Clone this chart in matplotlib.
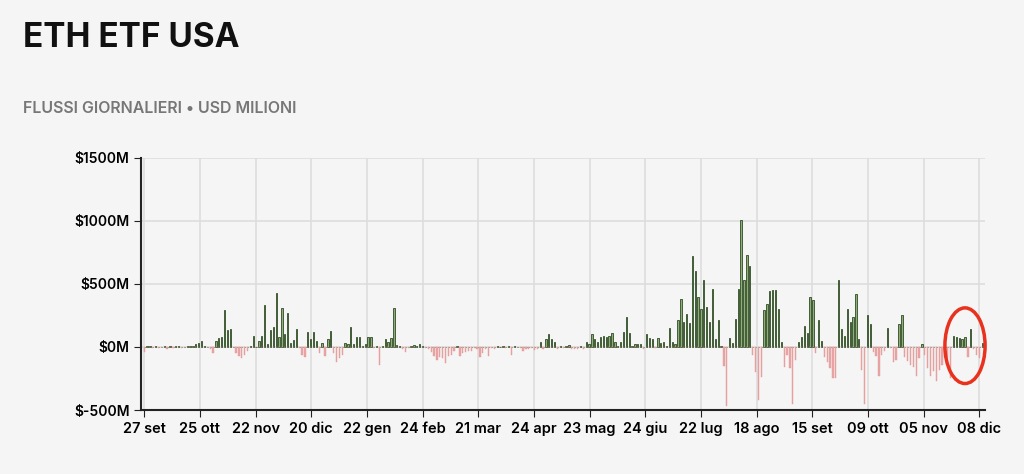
import matplotlib
matplotlib.use('Agg')
import matplotlib.pyplot as plt
from matplotlib.patches import Ellipse

plt.rcParams['font.family'] = ['Inter', 'DejaVu Sans']

# flussi giornalieri ETH ETF USA (milioni USD), letti a occhio dal grafico
seg_a = [-40, 5, 10, -5, 5, -10, 0, 5, -15, 10, -5, 5, 10, -5, 0, 5, 10, 5, 20, 30,
         50, 5, 0, -20, -50]
seg_b = [48, 75, 80, 290, 135, 140, 0, -50, -70, -90, -60, -30, 10, 90, 0, 50, 90, 330,
         25, 135, 160, 430, 80, 310, 105, 270, 30, 55, 145, -5, -60, -80, 120, 60, 115,
         50, -50, 30, -70, 60, 130, -50, -120, -90, -60, 30, 25, 160, 20, 80, 80, 5]
seg_c = [20, 80, 80, -10, 10, -140, 5, 60, 40, 70, 310, 15, 10, -20, -40, -10, 10, 15,
         10, 25, 5, -10, -20, -40, -70, -100, -80, -90, -130, -70, -60, -30, 5, -70, -50,
         -40, -30, -35, -10, -20, -80, -50, -20, -70, -10, -15, 5, 0, 5, -10, 5, -60, 5,
         0, -10, -30, -20, -20, -10, -25, -20, 40, -20, 60, 100, 60, 40, -15, 10, -10, 5,
         15, -20, -20, -20, 10]
seg_d = [-20, 40, 20, 100, 60, 40, 80, 90, 80, 85, 110, 40, 5, 40, 120, 240, 110, 5, 20,
         20, 20, -20, 100, 70, 60, -10, 70, 35, 40, 5, 150, 40, 25, 210, 380, 200, 260,
         190, 720, 600, 400, 300, 530, 320, 200, 460, 60, 210, 10, -150, -465, 70, 30,
         220, 460, 1010, 530, 730, 640, -60, -200, -420, -240, 290, 340, 440, 450]
seg_e = [450, 300, 40, -160, -60, -170, -450, -100, 40, 80, 170, 110, 400, 370, -50, 210,
         50, -80, -120, -170, -250, -250, 530, 140, 90, 300, 200, 240, 420, 60, -180,
         -450, 250, 180, -40, -70, -230, -60, -30, 150, -10, -120, -100, 180, 250, -80,
         -110, -140, -160, -230, -90, 20, -60, -170, -230, -190, -270, -180, -140, -80,
         -90, -250, 90, 80, 70, 60, 80, -80, 140, -20, -60, -90, 30]
flows = seg_a + seg_b + seg_c + seg_d + seg_e

tick_labels = ['27 set', '25 ott', '22 nov', '20 dic', '22 gen', '24 feb', '21 mar',
               '24 apr', '23 mag', '24 giu', '22 lug', '18 ago', '15 set', '09 ott',
               '05 nov', '08 dic']
y_ticks = [-500, 0, 500, 1000, 1500]

n = len(flows)
xs = list(range(n))
bg = '#f5f5f5'

fig = plt.figure(figsize=(10.24, 4.74), dpi=100, facecolor=bg)
ax = fig.add_axes([0.138, 0.135, 0.824, 0.532], facecolor=bg)

pos = [v if v > 0 else 0 for v in flows]
neg = [v if v < 0 else 0 for v in flows]
ax.bar(xs, pos, width=0.45, color='#8fae7a', edgecolor='#2f4a25', linewidth=0.6, zorder=3)
ax.bar(xs, neg, width=0.45, color='#eba5a5', edgecolor='#e29a9a', linewidth=0.3, zorder=3)

ax.set_ylim(-500, 1500)
ax.set_xlim(-1, n)
ax.set_yticks(y_ticks)
ax.set_yticklabels(['$%dM' % v for v in y_ticks], fontsize=10, fontweight='semibold')
tpos = [i * (n - 2) / (len(tick_labels) - 1) for i in range(len(tick_labels))]
ax.set_xticks(tpos)
ax.set_xticklabels(tick_labels, fontsize=10.5, fontweight='semibold')
ax.grid(True, color='#dddddd', linewidth=1.2, zorder=0)
for s in ['top', 'right']:
    ax.spines[s].set_visible(False)
for s in ['left', 'bottom']:
    ax.spines[s].set_color('#222222')
    ax.spines[s].set_linewidth(1.5)
ax.tick_params(length=5, color='#222222')

# cerchio rosso sugli ultimi giorni
ell = Ellipse((n - 7, 10), 14, 600, fill=False, edgecolor='#e8321e', linewidth=2.5,
              clip_on=False, zorder=5)
ax.add_patch(ell)

fig.text(0.022, 0.9, 'ETH ETF USA', fontsize=24, fontweight='bold', color='#111111')
fig.text(0.022, 0.762, 'FLUSSI GIORNALIERI • USD MILIONI', fontsize=11.5,
         fontweight='semibold', color='#777777')

fig.savefig('out.png', dpi=100, facecolor=bg)
